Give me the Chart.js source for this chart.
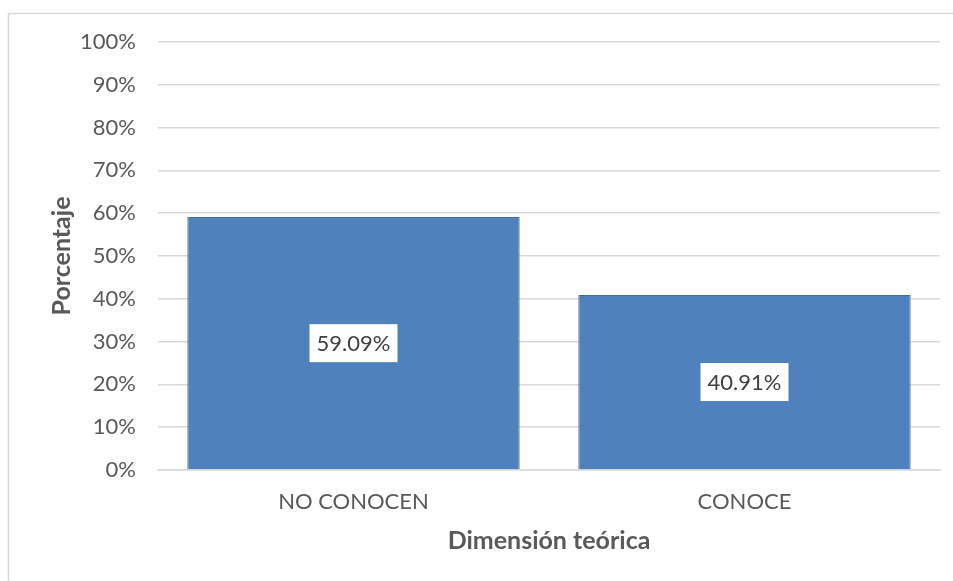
<!DOCTYPE html>
<html>
<head>
<meta charset="utf-8">
<script src="https://cdn.jsdelivr.net/npm/chart.js@4.4.0/dist/chart.umd.min.js"></script>
<style>
  html, body { margin: 0; padding: 0; background: #fff; }
  #wrap { width: 953px; height: 581px; }
</style>
</head>
<body>
<div id="wrap"><canvas id="grafico" width="953" height="581"></canvas></div>
<script>
// Datos del gráfico
const categorias = ['NO CONOCEN', 'CONOCE'];
const porcentajes = [59.09, 40.91];
const etiquetasValor = ['59.09%', '40.91%'];

const FUENTE = 'Lato, "Open Sans", sans-serif';

// Marco gris del área del gráfico
const marcoPlugin = {
    id: 'marco',
    beforeDraw(chart) {
        const ctx = chart.ctx;
        ctx.save();
        ctx.strokeStyle = '#d9d9d9';
        ctx.lineWidth = 1.5;
        ctx.beginPath();
        ctx.moveTo(8.5, chart.height);
        ctx.lineTo(8.5, 13.5);
        ctx.lineTo(chart.width, 13.5);
        ctx.stroke();
        ctx.restore();
    }
};

// Etiquetas de valor en cajas blancas al centro de cada barra
const etiquetasPlugin = {
    id: 'etiquetas',
    afterDatasetsDraw(chart) {
        const ctx = chart.ctx;
        const meta = chart.getDatasetMeta(0);
        ctx.save();
        ctx.font = '22px ' + FUENTE;
        ctx.textAlign = 'center';
        ctx.textBaseline = 'middle';
        meta.data.forEach((bar, i) => {
            const cx = bar.x;
            const cy = (bar.y + bar.base) / 2;
            const w = 88, h = 38;
            ctx.fillStyle = '#ffffff';
            ctx.fillRect(cx - w / 2, cy - h / 2, w, h);
            ctx.fillStyle = '#404040';
            ctx.fillText(etiquetasValor[i], cx, cy + 1);
        });
        ctx.restore();
    }
};

new Chart(document.getElementById('grafico'), {
    type: 'bar',
    data: {
        labels: categorias,
        datasets: [{
            data: porcentajes,
            backgroundColor: '#4f81bd',
            borderColor: '#41719c',
            borderWidth: 1,
            categoryPercentage: 1,
            barPercentage: 0.85
        }]
    },
    options: {
        responsive: false,
        animation: false,
        layout: { padding: { left: 0, top: 42, right: 13, bottom: 0 } },
        plugins: {
            legend: { display: false },
            tooltip: { enabled: false }
        },
        scales: {
            x: {
                grid: { display: false, drawTicks: false },
                border: { color: '#d9d9d9', width: 1.5 },
                ticks: { color: '#595959', font: { family: FUENTE, size: 22 }, padding: 19 },
                title: {
                    display: true,
                    text: 'Dimensión teórica',
                    color: '#595959',
                    font: { family: FUENTE, size: 25, weight: 'bold' },
                    padding: { top: 0, bottom: 25 }
                },
                afterFit(scale) { scale.height = 111; }
            },
            y: {
                min: 0,
                max: 100,
                grid: { color: '#d9d9d9', lineWidth: 1.5, drawTicks: false },
                border: { display: false },
                ticks: {
                    stepSize: 10,
                    color: '#595959',
                    font: { family: FUENTE, size: 22 },
                    padding: 22,
                    callback: v => v + '%'
                },
                title: {
                    display: true,
                    text: 'Porcentaje',
                    color: '#595959',
                    font: { family: FUENTE, size: 25, weight: 'bold' },
                    padding: { top: 47, bottom: 0 }
                },
                afterFit(scale) { scale.width = 158; }
            }
        }
    },
    plugins: [marcoPlugin, etiquetasPlugin]
});
</script>
</body>
</html>
